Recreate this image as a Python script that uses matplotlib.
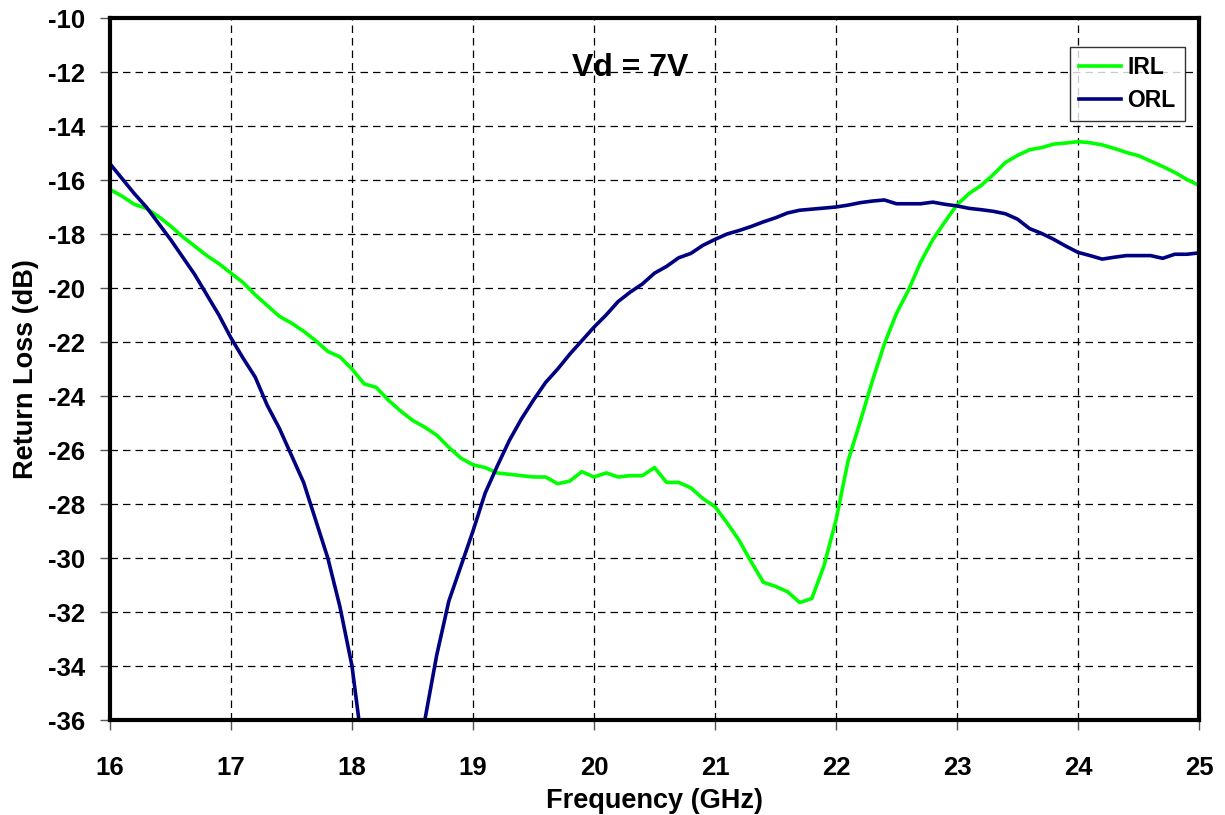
import numpy as np
import matplotlib
matplotlib.use("Agg")
import matplotlib.pyplot as plt

# Frequency sweep (GHz), 0.1 GHz step
freq = np.round(np.arange(16.0, 25.0001, 0.1), 1)

# Input return loss (dB)
irl = [
    -16.35, -16.6, -16.9, -17.05, -17.35, -17.7, -18.1, -18.45, -18.8, -19.1,
    -19.45, -19.8, -20.25, -20.65, -21.05, -21.3, -21.6, -21.95, -22.35, -22.55,
    -23.0, -23.55, -23.68, -24.15, -24.55, -24.9, -25.15, -25.45, -25.9, -26.3,
    -26.55, -26.65, -26.85, -26.9, -26.95, -27.0, -27.0, -27.25, -27.15, -26.8,
    -27.0, -26.85, -27.0, -26.95, -26.95, -26.65, -27.2, -27.2, -27.4, -27.8,
    -28.1, -28.7, -29.35, -30.15, -30.9, -31.05, -31.25, -31.65, -31.5, -30.3,
    -28.6, -26.4, -24.95, -23.45, -22.07, -20.94, -20.07, -19.04, -18.21, -17.55,
    -16.92, -16.5, -16.2, -15.8, -15.35, -15.09, -14.88, -14.8, -14.67, -14.63,
    -14.58, -14.62, -14.7, -14.83, -14.98, -15.1, -15.3, -15.5, -15.72, -15.98,
    -16.2,
]

# Output return loss (dB)
orl = [
    -15.4, -15.95, -16.5, -17.0, -17.6, -18.2, -18.85, -19.5, -20.25, -21.0,
    -21.85, -22.6, -23.3, -24.35, -25.2, -26.2, -27.2, -28.6, -30.0, -31.8,
    -34.0, -37.5, -41.0, -44.0, -42.0, -38.5, -36.05, -33.6, -31.6, -30.3,
    -29.0, -27.6, -26.6, -25.65, -24.85, -24.15, -23.5, -23.0, -22.45, -21.95,
    -21.45, -21.0, -20.5, -20.15, -19.85, -19.45, -19.2, -18.88, -18.72, -18.42,
    -18.2, -18.0, -17.87, -17.72, -17.55, -17.4, -17.22, -17.12, -17.08, -17.04,
    -17.0, -16.93, -16.84, -16.78, -16.74, -16.88, -16.88, -16.88, -16.82, -16.9,
    -16.96, -17.05, -17.1, -17.16, -17.25, -17.45, -17.8, -17.98, -18.2, -18.45,
    -18.68, -18.8, -18.93, -18.86, -18.8, -18.8, -18.8, -18.9, -18.75, -18.75,
    -18.7,
]

x_ticks = list(range(16, 26))
y_ticks = list(range(-36, -9, 2))

plt.rcParams['font.family'] = ['Liberation Sans', 'DejaVu Sans']
plt.rcParams['font.weight'] = 'bold'
plt.rcParams['axes.unicode_minus'] = False

fig = plt.figure(figsize=(12.25, 8.15), dpi=100)
ax = fig.add_axes([110 / 1225, 1 - 720 / 815, (1199 - 110) / 1225, (720 - 18) / 815])

ax.plot(freq, irl, color='#00FF00', lw=2.6, label='IRL', zorder=3)
ax.plot(freq, orl, color='#000080', lw=2.6, label='ORL', zorder=3)

ax.set_xlim(16, 25)
ax.set_ylim(-36, -10)
ax.set_xticks(x_ticks)
ax.set_yticks(y_ticks)
ax.tick_params(direction='out', length=7, width=1, color='#555555', labelsize=18.5)
ax.tick_params(axis='x', pad=19)
ax.tick_params(axis='y', pad=11)
for lbl in ax.get_xticklabels() + ax.get_yticklabels():
    lbl.set_fontweight('bold')

ax.grid(True, color='black', linestyle=(0, (6, 4)), linewidth=0.9, zorder=1)
for sp in ax.spines.values():
    sp.set_linewidth(3)
    sp.set_zorder(4)

ax.set_xlabel('Frequency (GHz)', fontsize=19.5, fontweight='bold', labelpad=6)
ax.set_ylabel('Return Loss (dB)', fontsize=19.5, fontweight='bold', labelpad=6)

ax.text(20.3, -11.85, 'Vd = 7V', fontsize=23, fontweight='bold',
        ha='center', va='center')

leg = ax.legend(loc='upper right', bbox_to_anchor=(0.987, 0.959),
                fancybox=False, frameon=True, edgecolor='black',
                prop={'size': 16.5, 'weight': 'bold'}, handlelength=1.8,
                borderpad=0.4, labelspacing=0.45, handletextpad=0.3,
                borderaxespad=0)
leg.get_frame().set_linewidth(1.0)

fig.savefig('out.png', dpi=100, facecolor='white')
